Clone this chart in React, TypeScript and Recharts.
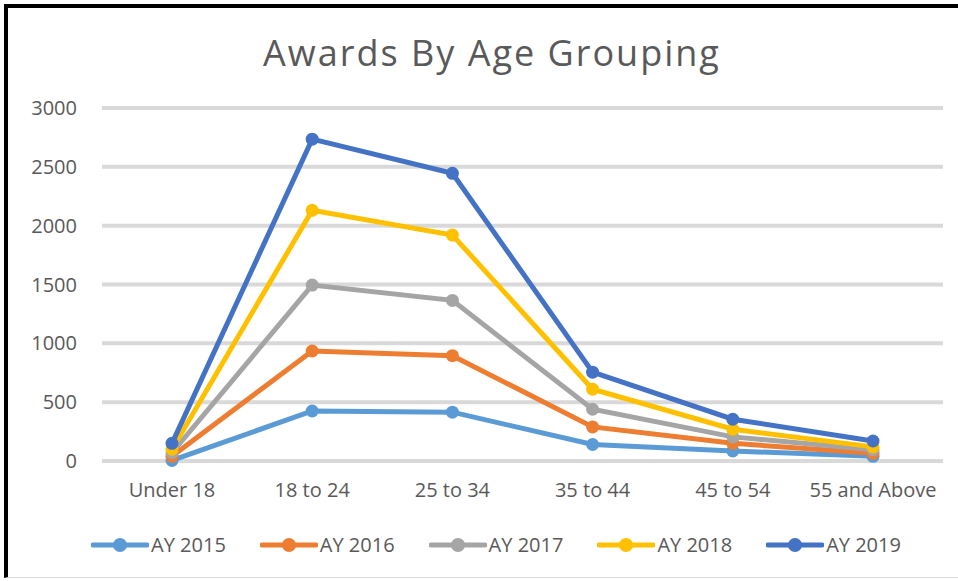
import React from 'react';
import { LineChart, Line, XAxis, YAxis, CartesianGrid } from 'recharts';

// age groups along the x axis
const categories = ['Under 18', '18 to 24', '25 to 34', '35 to 44', '45 to 54', '55 and Above'];

// awards per academic year
const ay2015 = [5, 425, 415, 140, 85, 40];
const ay2016 = [40, 935, 895, 290, 150, 65];
const ay2017 = [70, 1495, 1365, 440, 205, 95];
const ay2018 = [100, 2130, 1920, 610, 270, 120];
const ay2019 = [150, 2735, 2445, 755, 355, 170];

const yTicks = [0, 500, 1000, 1500, 2000, 2500, 3000];

const series = [
  { key: 'AY 2015', values: ay2015, color: '#5B9BD5' },
  { key: 'AY 2016', values: ay2016, color: '#ED7D31' },
  { key: 'AY 2017', values: ay2017, color: '#A5A5A5' },
  { key: 'AY 2018', values: ay2018, color: '#FFC000' },
  { key: 'AY 2019', values: ay2019, color: '#4472C4' },
];

const FONT = '"Open Sans", sans-serif';
const TEXT = '#595959';

const data = categories.map((name, i) => {
  const row: Record<string, string | number> = { name };
  series.forEach(s => (row[s.key] = s.values[i]));
  return row;
});

const App: React.FC = () => {
  return (
    <div style={{ position: 'absolute', left: 0, top: 0, width: 958, height: 581, overflow: 'hidden', background: '#fff', fontFamily: FONT }}>
      <div
        style={{
          position: 'absolute', left: 4, top: 4, width: 980, height: 574, boxSizing: 'border-box',
          borderLeft: '4px solid #000', borderTop: '4px solid #000', borderBottom: '1px solid #d9d9d9',
        }}
      />
      <div style={{ position: 'absolute', left: 0, width: 984, top: 29, textAlign: 'center', fontSize: 36, letterSpacing: 2, color: TEXT, lineHeight: '48px' }}>
        Awards By Age Grouping
      </div>
      <div style={{ position: 'absolute', left: 0, top: 0 }}>
        <LineChart width={958} height={581} data={data} margin={{ top: 108, right: 15, bottom: 90, left: 0 }}>
          <CartesianGrid vertical={false} stroke="#d9d9d9" strokeWidth={4} />
          <XAxis
            dataKey="name"
            axisLine={false}
            tickLine={false}
            tickSize={0}
            tickMargin={22}
            padding={{ left: 70, right: 70 }}
            tick={{ fill: TEXT, fontSize: 20, fontFamily: FONT }}
            interval={0}
          />
          <YAxis
            width={102}
            domain={[0, 3000]}
            ticks={yTicks}
            axisLine={false}
            tickLine={false}
            tickSize={0}
            tickMargin={25}
            tick={{ fill: TEXT, fontSize: 20, fontFamily: FONT }}
          />
          {series.map(s => (
            <Line
              key={s.key}
              dataKey={s.key}
              stroke={s.color}
              strokeWidth={5}
              dot={{ r: 6.5, fill: s.color, stroke: 'none' }}
              isAnimationActive={false}
            />
          ))}
        </LineChart>
      </div>
      <div style={{ position: 'absolute', left: 0, width: 992, top: 531, display: 'flex', justifyContent: 'center', gap: 34 }}>
        {series.map(s => (
          <div key={s.key} style={{ display: 'flex', alignItems: 'center', fontSize: 20, color: TEXT, lineHeight: '28px' }}>
            <svg width={58} height={16} style={{ marginRight: 2 }}>
              <line x1={2} y1={8} x2={56} y2={8} stroke={s.color} strokeWidth={5} strokeLinecap="round" />
              <circle cx={29} cy={8} r={7} fill={s.color} />
            </svg>
            {s.key}
          </div>
        ))}
      </div>
    </div>
  );
};

export default App;
